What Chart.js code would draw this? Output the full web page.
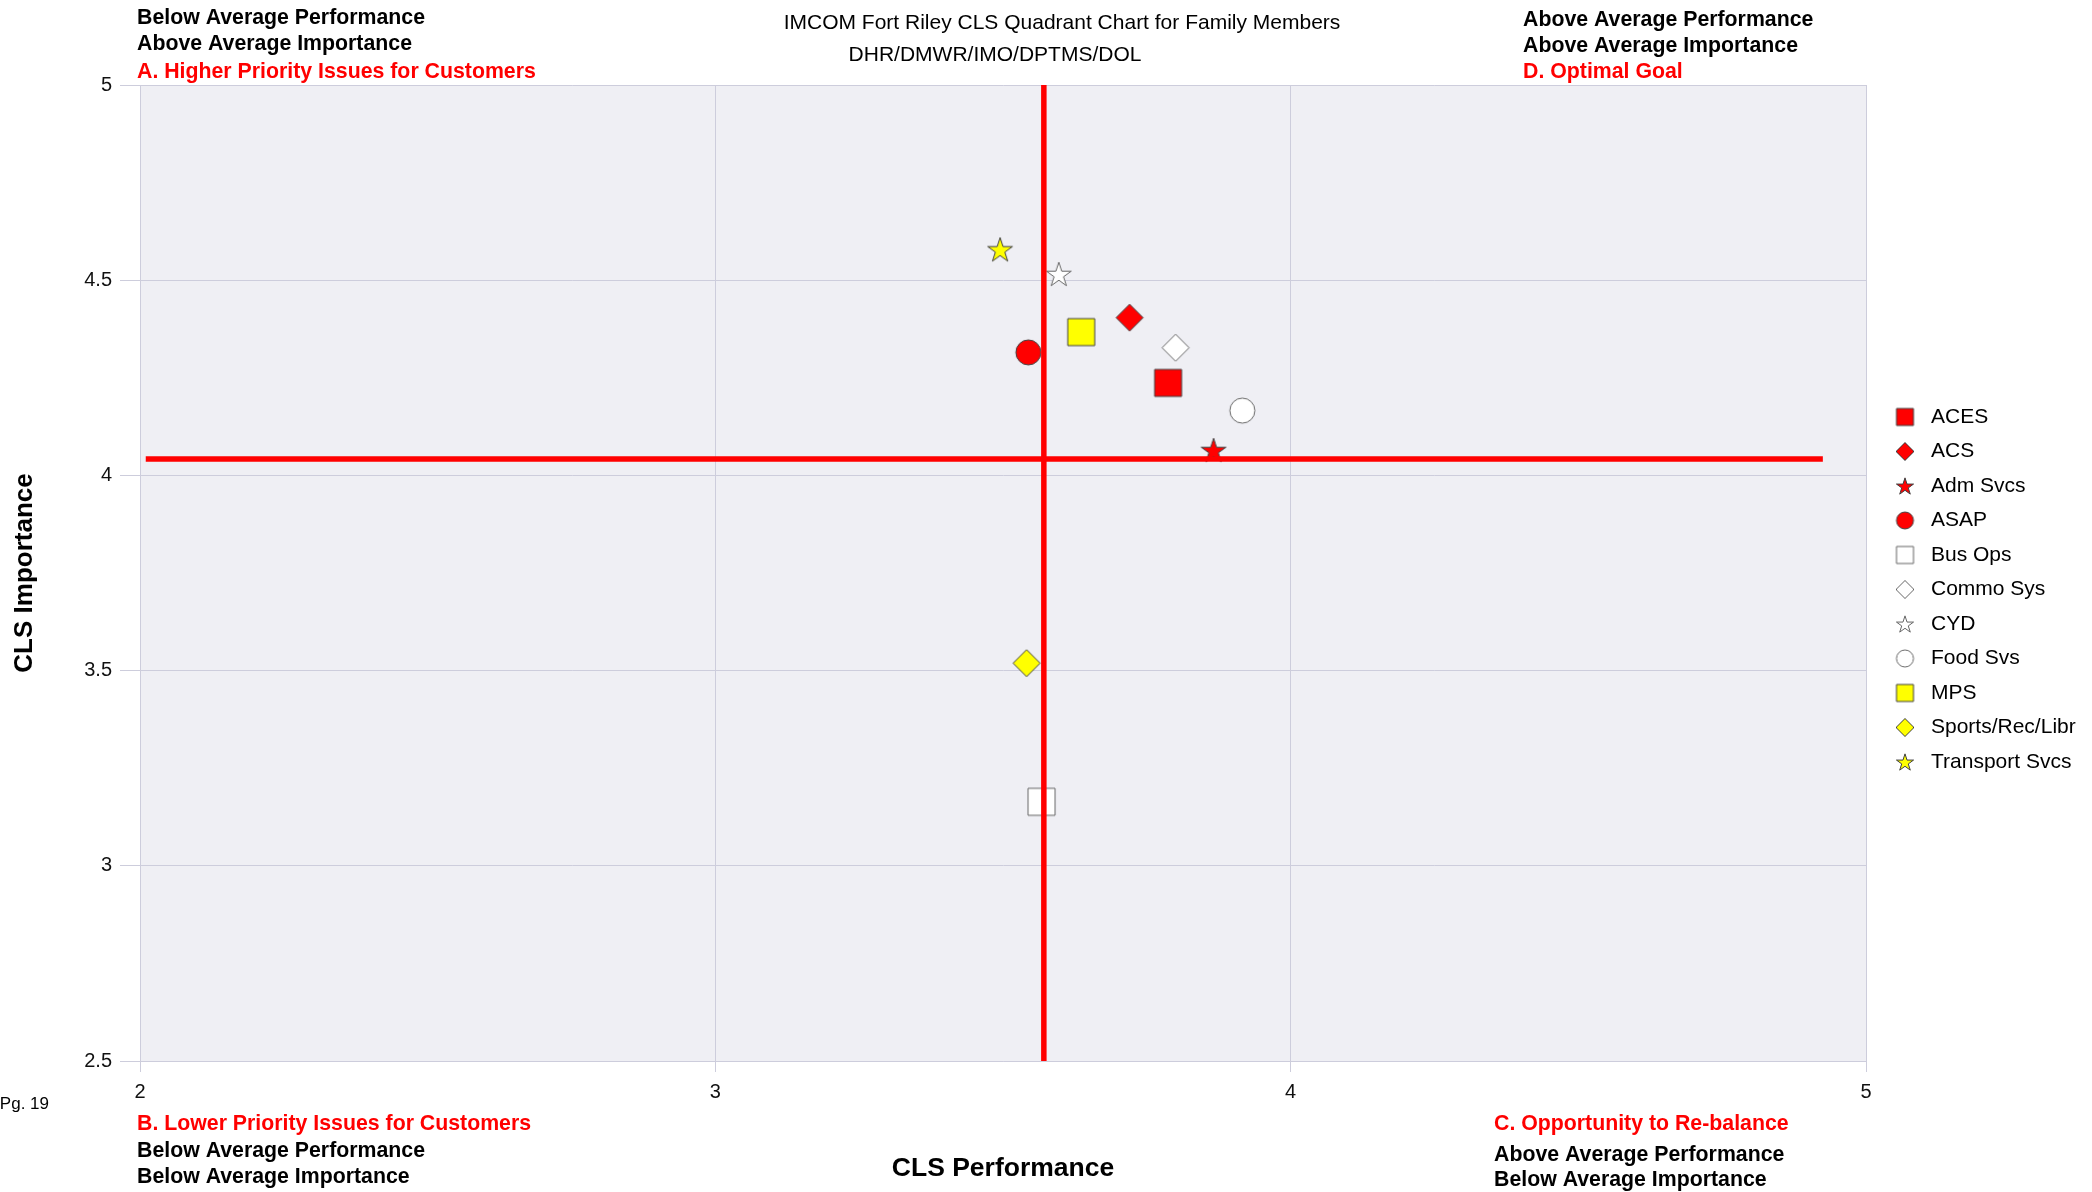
<!DOCTYPE html>
<html><head><meta charset="utf-8">
<script src="https://cdn.jsdelivr.net/npm/chart.js@4.4.1/dist/chart.umd.min.js"></script>
<style>html,body{margin:0;padding:0;background:#fff;overflow:hidden;} canvas{display:block;}</style>
</head><body>
<canvas id="c" width="2092" height="1192"></canvas>
<script>
// ---- data ----
const categories = ['ACES', 'ACS', 'Adm Svcs', 'ASAP', 'Bus Ops', 'Commo Sys', 'CYD', 'Food Svs', 'MPS', 'Sports/Rec/Libr', 'Transport Svcs'];
const performanceValues = [3.787, 3.720, 3.866, 3.544, 3.567, 3.800, 3.597, 3.916, 3.636, 3.541, 3.495];
const importanceValues  = [4.237, 4.404, 4.065, 4.315, 3.164, 4.327, 4.516, 4.166, 4.367, 3.519, 4.579];
const meanPerformance = 3.571;
const meanImportance = 4.042;
const horizontalLineX = [2.01, 4.925];
const verticalLineY = [2.5, 5];
const xTickValues = [2, 3, 4, 5];
const xTickLabels = ['2', '3', '4', '5'];
const yTickValues = [2.5, 3, 3.5, 4, 4.5, 5];
const yTickLabels = ['2.5', '3', '3.5', '4', '4.5', '5'];

// ---- styles ----
const markerShapes = ['square', 'diamond', 'star', 'circle', 'square', 'diamond', 'star', 'circle', 'square', 'diamond', 'star'];
const markerFills  = ['#FF0000', '#FF0000', '#FF0000', '#FF0000', '#FFFFFF', '#FFFFFF', '#FFFFFF', '#FFFFFF', '#FFFF00', '#FFFF00', '#FFFF00'];
const FONT = "'Liberation Sans', Arial, sans-serif";

function makeMarker(shape, fill, big) {
  const dims = big ? {square: 27, diamond: 27, circle: 25, star: 26} : {square: 17, diamond: 18, circle: 17, star: 18};
  const s = dims[shape];
  const c = document.createElement('canvas');
  const w = Math.ceil(s + 4);
  c.width = w; c.height = w;
  const ctx = c.getContext('2d');
  const m = w / 2;
  ctx.beginPath();
  if (shape === 'square') {
    ctx.rect(m - s / 2, m - s / 2, s, s);
  } else if (shape === 'diamond') {
    ctx.moveTo(m, m - s / 2); ctx.lineTo(m + s / 2, m); ctx.lineTo(m, m + s / 2); ctx.lineTo(m - s / 2, m); ctx.closePath();
  } else if (shape === 'circle') {
    ctx.arc(m, m, s / 2, 0, Math.PI * 2);
  } else {
    const R = s / 2, r = R * 0.382, cy = m + R * 0.095;
    for (let i = 0; i < 10; i++) {
      const a = -Math.PI / 2 + i * Math.PI / 5;
      const rr = i % 2 === 0 ? R : r;
      const px = m + rr * Math.cos(a), py = cy + rr * Math.sin(a);
      if (i === 0) ctx.moveTo(px, py); else ctx.lineTo(px, py);
    }
    ctx.closePath();
  }
  ctx.fillStyle = fill;
  ctx.fill();
  ctx.lineWidth = 1;
  ctx.strokeStyle = fill === '#FFFFFF' ? '#666666' : '#404040';
  ctx.stroke();
  return c;
}
const plotMarkers = categories.map((_, i) => makeMarker(markerShapes[i], markerFills[i], true));
const legendMarkers = categories.map((_, i) => makeMarker(markerShapes[i], markerFills[i], false));

const datasets = categories.map((name, i) => ({
  label: name,
  data: [{x: performanceValues[i], y: importanceValues[i]}],
  pointStyle: plotMarkers[i],
  pointRadius: 12,
  pointHoverRadius: 12,
  order: 1
}));
datasets.push({
  type: 'line', label: '_hline',
  data: [{x: horizontalLineX[0], y: meanImportance}, {x: horizontalLineX[1], y: meanImportance}],
  borderColor: '#FF0000', borderWidth: 5.5, pointRadius: 0, fill: false, order: 0
});
datasets.push({
  type: 'line', label: '_vline',
  data: [{x: meanPerformance, y: verticalLineY[0]}, {x: meanPerformance, y: verticalLineY[1]}],
  borderColor: '#FF0000', borderWidth: 5.5, pointRadius: 0, fill: false, order: 0
});

const GRID = '#CDCDDC';

const bgPlugin = {
  id: 'plotBg',
  beforeDraw(chart) {
    const {ctx, chartArea: a} = chart;
    ctx.save();
    ctx.fillStyle = '#EFEFF4';
    ctx.fillRect(a.left, a.top, a.right - a.left, a.bottom - a.top);
    ctx.restore();
  }
};

const texts = [
  {t: 'IMCOM Fort Riley CLS Quadrant Chart for Family Members', x: 1062, y: 29, c: '#000', b: false, a: 'center', s: 21},
  {t: 'DHR/DMWR/IMO/DPTMS/DOL', x: 995, y: 61, c: '#000', b: false, a: 'center', s: 21},
  {t: 'Below Average Performance', x: 137, y: 24, c: '#000', b: true, a: 'left', s: 21.3},
  {t: 'Above Average Importance', x: 137, y: 50, c: '#000', b: true, a: 'left', s: 21.3},
  {t: 'A. Higher Priority Issues for Customers', x: 137, y: 78, c: '#FF0000', b: true, a: 'left', s: 21.3},
  {t: 'Above Average Performance', x: 1523, y: 26, c: '#000', b: true, a: 'left', s: 21.3},
  {t: 'Above Average Importance', x: 1523, y: 52, c: '#000', b: true, a: 'left', s: 21.3},
  {t: 'D. Optimal Goal', x: 1523, y: 78, c: '#FF0000', b: true, a: 'left', s: 21.3},
  {t: 'B. Lower Priority Issues for Customers', x: 137, y: 1130, c: '#FF0000', b: true, a: 'left', s: 21.3},
  {t: 'Below Average Performance', x: 137, y: 1157, c: '#000', b: true, a: 'left', s: 21.3},
  {t: 'Below Average Importance', x: 137, y: 1183, c: '#000', b: true, a: 'left', s: 21.3},
  {t: 'C. Opportunity to Re-balance', x: 1494, y: 1130, c: '#FF0000', b: true, a: 'left', s: 21.3},
  {t: 'Above Average Performance', x: 1494, y: 1161, c: '#000', b: true, a: 'left', s: 21.3},
  {t: 'Below Average Importance', x: 1494, y: 1186, c: '#000', b: true, a: 'left', s: 21.3},
  {t: 'Pg. 19', x: 49, y: 1109, c: '#000', b: false, a: 'right', s: 17}
];
const textPlugin = {
  id: 'texts',
  afterDraw(chart) {
    const ctx = chart.ctx;
    ctx.save();
    ctx.textBaseline = 'alphabetic';
    texts.forEach(o => {
      ctx.font = (o.b ? 'bold ' : '') + o.s + 'px ' + FONT;
      ctx.fillStyle = o.c;
      ctx.textAlign = o.a;
      ctx.fillText(o.t, o.x, o.y);
    });
    ctx.restore();
  }
};

Chart.defaults.font.family = FONT;
Chart.defaults.color = '#111';

const chart = new Chart(document.getElementById('c'), {
  type: 'scatter',
  data: {datasets},
  options: {
    responsive: false,
    animation: false,
    events: [],
    layout: {padding: {top: 85, left: 0, bottom: 0, right: 9}},
    scales: {
      x: {
        type: 'linear', position: 'bottom', min: 2, max: 5,
        afterBuildTicks: s => { s.ticks = xTickValues.map(v => ({value: v})); },
        afterFit: s => { s.height = 131; },
        ticks: {callback: (v) => xTickLabels[xTickValues.indexOf(v)], font: {size: 20}, color: '#111', padding: 8, maxRotation: 0},
        grid: {color: GRID, tickColor: GRID, tickLength: 11, lineWidth: 1},
        border: {color: GRID},
        title: {display: true, text: 'CLS Performance', font: {size: 26.5, weight: 'bold'}, color: '#000', padding: {top: 0, bottom: 7}}
      },
      y: {
        type: 'linear', position: 'left', min: 2.5, max: 5,
        afterBuildTicks: s => { s.ticks = yTickValues.map(v => ({value: v})); },
        afterFit: s => { s.width = 140; },
        ticks: {callback: (v) => yTickLabels[yTickValues.indexOf(v)], font: {size: 20}, color: '#111', padding: 8},
        grid: {color: GRID, tickColor: GRID, tickLength: 20, lineWidth: 1},
        border: {color: GRID},
        title: {display: true, text: 'CLS Importance', font: {size: 26, weight: 'bold'}, color: '#000', padding: {top: 9, bottom: 0}}
      },
      yGap: {
        type: 'linear', position: 'right', min: 0, max: 1, display: true,
        afterFit: s => { s.width = 10; },
        ticks: {display: false}, grid: {display: false, drawTicks: false}, border: {display: false}
      }
    },
    plugins: {
      tooltip: {enabled: false},
      legend: {
        display: true, position: 'right', align: 'center', fullSize: false,
        title: {display: true, text: ' ', font: {size: 33, lineHeight: 1}, padding: 0},
        labels: {
          usePointStyle: true, pointStyleWidth: 31, padding: 13.5,
          font: {size: 21}, color: '#000',
          generateLabels(ch) {
            const items = Chart.defaults.plugins.legend.labels.generateLabels(ch);
            return items.filter(it => it.datasetIndex < categories.length)
              .map(it => Object.assign({}, it, {pointStyle: legendMarkers[it.datasetIndex], fontColor: '#000'}));
          }
        }
      }
    }
  },
  plugins: [bgPlugin, textPlugin]
});

const d = chart.chartArea.right - 1866;
if (Math.abs(d) > 0.5) {
  chart.options.layout.padding.right += d;
  chart.update('none');
}
</script>
</body></html>
